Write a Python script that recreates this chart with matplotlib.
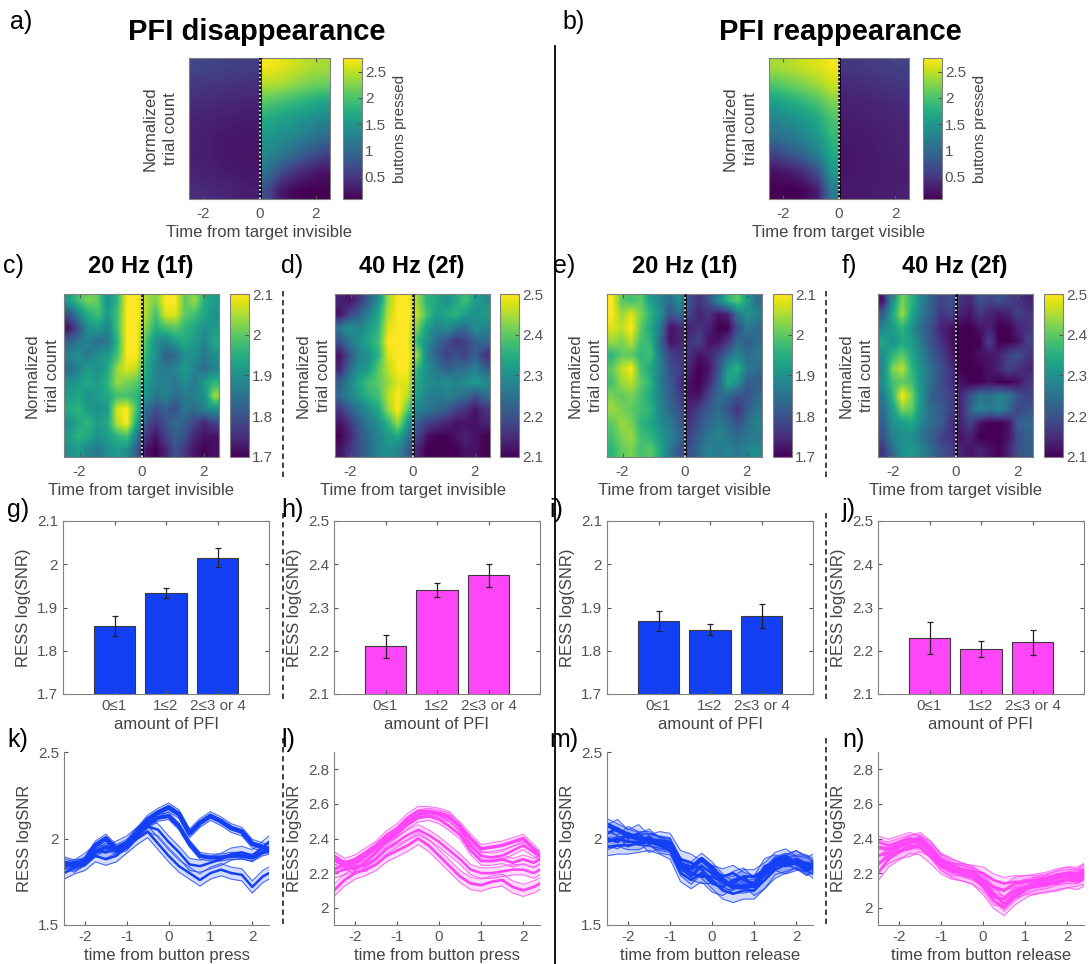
import numpy as np
import matplotlib.pyplot as plt

plt.rcParams['font.family'] = ['Liberation Sans', 'DejaVu Sans']
plt.rcParams['xtick.color'] = '#555555'
plt.rcParams['ytick.color'] = '#555555'
plt.rcParams['axes.edgecolor'] = '#808080'
plt.rcParams['axes.labelcolor'] = '#444444'

BLUE = '#1440f5'
MAGENTA = '#ff45f8'

# ---- panel a / b : buttons pressed (rows = normalized trials, top->bottom)
a_left = [[0.65, 0.62, 0.60, 0.58, 0.55],
          [0.52, 0.50, 0.48, 0.46, 0.45],
          [0.42, 0.40, 0.38, 0.36, 0.35],
          [0.35, 0.32, 0.30, 0.28, 0.28],
          [0.32, 0.28, 0.25, 0.24, 0.24],
          [0.30, 0.28, 0.24, 0.22, 0.22],
          [0.35, 0.32, 0.28, 0.26, 0.24],
          [0.42, 0.40, 0.36, 0.32, 0.28]]
a_right = [[2.72, 2.65, 2.55, 2.45, 2.40],
           [2.45, 2.40, 2.30, 2.20, 2.15],
           [2.05, 1.95, 1.85, 1.75, 1.65],
           [1.70, 1.60, 1.50, 1.40, 1.30],
           [1.50, 1.40, 1.30, 1.15, 1.00],
           [1.30, 1.15, 0.95, 0.75, 0.60],
           [1.05, 0.70, 0.45, 0.30, 0.20],
           [0.70, 0.25, 0.12, 0.08, 0.08]]
b_left = [[2.40, 2.45, 2.55, 2.62, 2.72],
          [2.05, 2.15, 2.25, 2.38, 2.55],
          [1.60, 1.70, 1.85, 2.00, 2.25],
          [1.30, 1.40, 1.50, 1.70, 2.00],
          [1.05, 1.15, 1.30, 1.50, 1.85],
          [0.60, 0.75, 0.95, 1.25, 1.70],
          [0.20, 0.25, 0.40, 0.75, 1.50],
          [0.08, 0.08, 0.12, 0.30, 1.20]]
b_right = [[0.50, 0.52, 0.55, 0.58, 0.60],
           [0.40, 0.42, 0.45, 0.48, 0.50],
           [0.32, 0.34, 0.36, 0.38, 0.42],
           [0.28, 0.30, 0.32, 0.34, 0.36],
           [0.25, 0.26, 0.28, 0.30, 0.34],
           [0.24, 0.25, 0.27, 0.30, 0.32],
           [0.24, 0.25, 0.26, 0.28, 0.30],
           [0.26, 0.26, 0.28, 0.30, 0.32]]

# ---- panels c-f : RESS log(SNR) per trial bin (12 rows x 16 time bins)
c_grid = [[1.92, 1.98, 2.02, 2.00, 1.90, 1.96, 2.10, 2.10, 2.05, 2.02, 2.10, 2.10, 2.00, 2.04, 1.95, 1.92],
          [1.80, 1.88, 1.95, 1.98, 1.92, 1.98, 2.10, 2.10, 2.05, 1.98, 2.08, 2.08, 2.00, 1.98, 1.94, 1.90],
          [1.72, 1.80, 1.90, 1.92, 1.88, 1.98, 2.10, 2.10, 2.02, 1.95, 1.98, 2.00, 1.96, 1.94, 1.90, 1.92],
          [1.82, 1.86, 1.88, 1.84, 1.86, 1.96, 2.10, 2.10, 1.98, 1.90, 1.88, 1.92, 1.95, 1.92, 1.88, 1.94],
          [1.88, 1.90, 1.86, 1.90, 1.92, 1.98, 2.10, 2.10, 1.96, 1.90, 1.82, 1.84, 1.90, 1.90, 1.86, 1.90],
          [1.84, 1.88, 1.92, 1.90, 1.94, 2.04, 2.08, 2.06, 1.94, 1.88, 1.86, 1.88, 1.92, 1.88, 1.84, 1.88],
          [1.90, 1.92, 1.94, 1.92, 1.96, 2.04, 2.02, 2.00, 1.92, 1.88, 1.88, 1.86, 1.90, 1.86, 1.92, 1.96],
          [1.92, 1.94, 1.90, 1.92, 1.94, 1.98, 1.98, 1.96, 1.90, 1.86, 1.88, 1.84, 1.86, 1.88, 1.90, 2.04],
          [1.94, 1.96, 1.92, 1.90, 1.92, 2.08, 2.10, 1.98, 1.84, 1.80, 1.82, 1.80, 1.86, 1.84, 1.88, 1.90],
          [1.90, 1.94, 1.96, 1.92, 1.94, 2.06, 2.10, 1.94, 1.80, 1.76, 1.80, 1.84, 1.82, 1.78, 1.74, 1.78],
          [1.92, 1.96, 1.94, 1.90, 1.92, 1.96, 1.98, 1.86, 1.76, 1.72, 1.78, 1.82, 1.80, 1.74, 1.72, 1.72],
          [1.90, 1.92, 1.88, 1.86, 1.90, 1.92, 1.90, 1.82, 1.72, 1.70, 1.74, 1.80, 1.76, 1.72, 1.70, 1.72]]
d_grid = [[2.14, 2.12, 2.16, 2.22, 2.30, 2.44, 2.50, 2.50, 2.44, 2.36, 2.34, 2.30, 2.34, 2.38, 2.32, 2.30],
          [2.12, 2.18, 2.22, 2.28, 2.34, 2.46, 2.50, 2.50, 2.46, 2.38, 2.32, 2.34, 2.36, 2.32, 2.30, 2.32],
          [2.26, 2.30, 2.28, 2.32, 2.36, 2.48, 2.50, 2.50, 2.42, 2.32, 2.28, 2.30, 2.26, 2.24, 2.30, 2.28],
          [2.20, 2.26, 2.30, 2.34, 2.38, 2.50, 2.50, 2.50, 2.36, 2.30, 2.24, 2.20, 2.16, 2.18, 2.22, 2.24],
          [2.12, 2.20, 2.28, 2.30, 2.36, 2.48, 2.50, 2.50, 2.44, 2.28, 2.22, 2.18, 2.20, 2.18, 2.22, 2.16],
          [2.14, 2.24, 2.30, 2.32, 2.40, 2.46, 2.50, 2.50, 2.36, 2.30, 2.26, 2.22, 2.24, 2.24, 2.28, 2.22],
          [2.22, 2.28, 2.34, 2.38, 2.40, 2.44, 2.48, 2.48, 2.34, 2.30, 2.28, 2.30, 2.28, 2.30, 2.32, 2.30],
          [2.24, 2.28, 2.32, 2.36, 2.38, 2.46, 2.50, 2.46, 2.32, 2.28, 2.26, 2.28, 2.26, 2.24, 2.20, 2.24],
          [2.16, 2.22, 2.26, 2.30, 2.34, 2.44, 2.50, 2.40, 2.28, 2.26, 2.24, 2.22, 2.18, 2.16, 2.12, 2.16],
          [2.12, 2.16, 2.22, 2.26, 2.30, 2.36, 2.44, 2.32, 2.22, 2.18, 2.16, 2.14, 2.12, 2.12, 2.12, 2.14],
          [2.10, 2.14, 2.20, 2.24, 2.28, 2.32, 2.34, 2.26, 2.18, 2.12, 2.10, 2.10, 2.12, 2.14, 2.12, 2.10],
          [2.12, 2.16, 2.20, 2.24, 2.28, 2.30, 2.28, 2.22, 2.14, 2.10, 2.10, 2.10, 2.10, 2.12, 2.12, 2.10]]
e_grid = [[2.10, 2.00, 1.98, 2.00, 1.92, 1.88, 1.84, 1.90, 1.80, 1.76, 1.80, 1.88, 1.96, 2.00, 1.92, 1.84],
          [2.10, 2.04, 2.08, 2.02, 1.96, 1.90, 1.80, 1.84, 1.78, 1.74, 1.76, 1.72, 1.74, 1.86, 1.90, 1.88],
          [2.08, 2.06, 2.10, 2.00, 1.94, 1.86, 1.72, 1.74, 1.74, 1.76, 1.74, 1.70, 1.70, 1.80, 1.86, 1.84],
          [2.04, 2.02, 2.06, 1.98, 1.96, 1.84, 1.72, 1.74, 1.76, 1.78, 1.72, 1.72, 1.76, 1.84, 1.82, 1.84],
          [1.96, 2.00, 2.00, 1.96, 1.98, 1.86, 1.78, 1.76, 1.76, 1.72, 1.74, 1.78, 1.84, 1.88, 1.84, 1.86],
          [2.00, 2.06, 2.10, 1.98, 1.94, 1.88, 1.80, 1.78, 1.74, 1.70, 1.72, 1.80, 1.92, 1.96, 1.86, 1.84],
          [1.98, 2.04, 2.06, 2.00, 1.96, 1.86, 1.82, 1.76, 1.72, 1.70, 1.74, 1.82, 1.94, 1.90, 1.82, 1.82],
          [2.02, 2.00, 2.02, 1.98, 1.94, 1.88, 1.82, 1.78, 1.72, 1.72, 1.78, 1.84, 1.84, 1.80, 1.80, 1.84],
          [2.04, 2.02, 2.00, 1.98, 1.96, 1.88, 1.84, 1.80, 1.74, 1.78, 1.82, 1.84, 1.80, 1.76, 1.82, 1.86],
          [2.00, 2.04, 2.02, 1.96, 1.94, 1.90, 1.86, 1.82, 1.76, 1.80, 1.84, 1.86, 1.84, 1.80, 1.84, 1.88],
          [1.98, 2.02, 2.04, 1.98, 1.96, 1.92, 1.88, 1.84, 1.78, 1.82, 1.86, 1.88, 1.86, 1.84, 1.86, 1.86],
          [1.96, 2.00, 2.02, 1.98, 2.00, 1.94, 1.86, 1.80, 1.80, 1.84, 1.88, 1.86, 1.88, 1.86, 1.88, 1.90]]
f_grid = [[2.12, 2.30, 2.42, 2.36, 2.28, 2.22, 2.18, 2.20, 2.16, 2.14, 2.20, 2.18, 2.20, 2.18, 2.16, 2.14],
          [2.22, 2.34, 2.44, 2.34, 2.26, 2.22, 2.16, 2.18, 2.14, 2.12, 2.16, 2.14, 2.12, 2.14, 2.18, 2.16],
          [2.28, 2.32, 2.36, 2.30, 2.24, 2.20, 2.14, 2.12, 2.10, 2.10, 2.12, 2.14, 2.10, 2.10, 2.14, 2.16],
          [2.34, 2.30, 2.34, 2.32, 2.26, 2.20, 2.16, 2.12, 2.10, 2.10, 2.10, 2.18, 2.10, 2.10, 2.12, 2.18],
          [2.30, 2.36, 2.40, 2.34, 2.28, 2.22, 2.18, 2.14, 2.10, 2.10, 2.12, 2.12, 2.14, 2.18, 2.20, 2.16],
          [2.28, 2.42, 2.46, 2.36, 2.30, 2.24, 2.20, 2.16, 2.10, 2.10, 2.10, 2.12, 2.14, 2.18, 2.16, 2.14],
          [2.30, 2.38, 2.40, 2.38, 2.30, 2.24, 2.20, 2.16, 2.12, 2.10, 2.10, 2.12, 2.10, 2.10, 2.12, 2.16],
          [2.26, 2.36, 2.50, 2.42, 2.30, 2.22, 2.20, 2.18, 2.14, 2.20, 2.26, 2.24, 2.28, 2.26, 2.20, 2.18],
          [2.24, 2.32, 2.42, 2.40, 2.30, 2.24, 2.22, 2.18, 2.14, 2.22, 2.28, 2.26, 2.28, 2.24, 2.18, 2.20],
          [2.22, 2.30, 2.32, 2.34, 2.28, 2.24, 2.22, 2.16, 2.14, 2.18, 2.12, 2.10, 2.10, 2.12, 2.22, 2.24],
          [2.20, 2.28, 2.30, 2.30, 2.26, 2.22, 2.18, 2.16, 2.12, 2.14, 2.10, 2.10, 2.10, 2.12, 2.20, 2.22],
          [2.16, 2.24, 2.30, 2.32, 2.28, 2.24, 2.20, 2.18, 2.14, 2.12, 2.14, 2.12, 2.10, 2.14, 2.20, 2.22]]

# ---- panels g-j : bar means and SEM
pfi_labels = ['0\u22641', '1\u22642', '2\u22643 or 4']
g_mean = [1.857, 1.933, 2.015]
g_err = [0.024, 0.012, 0.022]
h_mean = [2.210, 2.341, 2.374]
h_err = [0.027, 0.016, 0.026]
i_mean = [1.869, 1.849, 1.880]
i_err = [0.024, 0.013, 0.028]
j_mean = [2.229, 2.204, 2.220]
j_err = [0.037, 0.019, 0.029]

# ---- panels k-n : time courses (mean, shaded +/- sem)
t_line = [-2.5, -2.25, -2.0, -1.75, -1.5, -1.25, -1.0, -0.75, -0.5, -0.25, 0.0,
          0.25, 0.5, 0.75, 1.0, 1.25, 1.5, 1.75, 2.0, 2.25, 2.4]
k_series = [
    [1.86, 1.84, 1.87, 1.96, 2.00, 1.94, 1.97, 2.04, 2.11, 2.15, 2.18, 2.14, 2.03, 2.09, 2.13, 2.10, 2.06, 2.04, 1.97, 1.95, 1.94],
    [1.84, 1.86, 1.86, 1.92, 1.95, 1.93, 1.95, 2.02, 2.08, 2.12, 2.13, 2.07, 1.97, 1.90, 1.89, 1.89, 1.90, 1.90, 1.89, 1.92, 1.93],
    [1.80, 1.83, 1.85, 1.90, 1.88, 1.90, 1.95, 2.00, 2.04, 1.97, 1.90, 1.84, 1.80, 1.76, 1.80, 1.82, 1.80, 1.79, 1.72, 1.78, 1.80],
    [1.86, 1.84, 1.88, 1.93, 1.92, 1.95, 1.98, 2.03, 2.07, 2.05, 1.98, 1.92, 1.85, 1.84, 1.86, 1.88, 1.91, 1.92, 1.90, 1.95, 1.98]]
k_sem = [0.025, 0.02, 0.035, 0.035]
k_lw = [3.5, 3.0, 1.8, 1.8]
l_series = [
    [2.28, 2.24, 2.26, 2.30, 2.35, 2.40, 2.44, 2.50, 2.54, 2.55, 2.54, 2.52, 2.47, 2.40, 2.34, 2.35, 2.36, 2.38, 2.40, 2.34, 2.30],
    [2.22, 2.25, 2.22, 2.26, 2.32, 2.38, 2.43, 2.48, 2.52, 2.53, 2.51, 2.47, 2.42, 2.33, 2.27, 2.27, 2.28, 2.26, 2.28, 2.26, 2.28],
    [2.10, 2.16, 2.20, 2.22, 2.25, 2.30, 2.33, 2.36, 2.40, 2.36, 2.30, 2.24, 2.18, 2.14, 2.13, 2.15, 2.16, 2.12, 2.10, 2.12, 2.14],
    [2.20, 2.22, 2.24, 2.24, 2.28, 2.34, 2.38, 2.42, 2.45, 2.42, 2.38, 2.33, 2.28, 2.22, 2.20, 2.20, 2.21, 2.22, 2.22, 2.20, 2.22],
    [2.30, 2.26, 2.28, 2.32, 2.36, 2.42, 2.46, 2.52, 2.56, 2.56, 2.55, 2.53, 2.46, 2.36, 2.30, 2.29, 2.30, 2.33, 2.36, 2.32, 2.30]]
l_sem = [0.025, 0.025, 0.035, 0.03, 0.025]
l_lw = [2.5, 2.0, 2.0, 1.8, 1.8]
m_series = [
    [2.08, 2.05, 2.02, 2.00, 1.99, 1.98, 1.97, 1.85, 1.83, 1.88, 1.83, 1.76, 1.72, 1.72, 1.73, 1.80, 1.86, 1.88, 1.86, 1.82, 1.84],
    [2.00, 1.98, 2.03, 2.00, 2.00, 1.97, 1.96, 1.85, 1.80, 1.78, 1.78, 1.75, 1.74, 1.78, 1.78, 1.82, 1.88, 1.90, 1.86, 1.85, 1.83],
    [1.95, 1.96, 1.96, 1.97, 1.98, 1.96, 1.93, 1.80, 1.76, 1.80, 1.74, 1.72, 1.76, 1.78, 1.72, 1.76, 1.84, 1.86, 1.88, 1.85, 1.82],
    [2.03, 2.06, 2.00, 2.03, 1.97, 1.99, 1.98, 1.88, 1.86, 1.82, 1.76, 1.70, 1.68, 1.70, 1.70, 1.76, 1.82, 1.85, 1.88, 1.84, 1.86],
    [1.98, 2.00, 1.98, 1.98, 2.01, 1.96, 1.95, 1.83, 1.78, 1.84, 1.80, 1.78, 1.80, 1.76, 1.74, 1.84, 1.86, 1.84, 1.86, 1.86, 1.84]]
m_sem = [0.035, 0.04, 0.05, 0.05, 0.045]
m_lw = [3.5, 2.0, 1.8, 1.8, 1.8]
n_series = [
    [2.35, 2.34, 2.36, 2.38, 2.38, 2.33, 2.27, 2.24, 2.22, 2.20, 2.16, 2.08, 2.02, 2.08, 2.12, 2.14, 2.15, 2.17, 2.18, 2.18, 2.20],
    [2.30, 2.32, 2.35, 2.38, 2.40, 2.35, 2.28, 2.25, 2.22, 2.20, 2.16, 2.12, 2.10, 2.14, 2.15, 2.15, 2.16, 2.18, 2.20, 2.19, 2.22],
    [2.25, 2.30, 2.33, 2.34, 2.37, 2.34, 2.26, 2.22, 2.20, 2.18, 2.12, 2.04, 2.00, 2.06, 2.10, 2.13, 2.13, 2.15, 2.16, 2.17, 2.18],
    [2.38, 2.36, 2.38, 2.40, 2.38, 2.32, 2.25, 2.22, 2.22, 2.21, 2.20, 2.16, 2.14, 2.15, 2.15, 2.16, 2.17, 2.19, 2.20, 2.20, 2.22],
    [2.20, 2.28, 2.32, 2.36, 2.35, 2.30, 2.24, 2.21, 2.20, 2.18, 2.14, 2.06, 2.05, 2.10, 2.12, 2.12, 2.14, 2.14, 2.16, 2.15, 2.17]]
n_sem = [0.04, 0.035, 0.045, 0.035, 0.045]
n_lw = [2.2, 2.0, 2.0, 1.8, 1.8]

W, H = 1089, 964
fig = plt.figure(figsize=(W / 100, H / 100), dpi=100)

LAB = 12
TICK = 11


def box(x0, y0, x1, y1):
    # axes from pixel corners (top-left origin)
    return fig.add_axes([x0 / W, 1 - y1 / H, (x1 - x0) / W, (y1 - y0) / H])


def zero_line(ax):
    ax.plot([0, 0], [0, 1], color='black', lw=1.8, zorder=3)
    ax.plot([0, 0], [0, 1], color='white', lw=1.2, ls=(0, (1, 1.5)), zorder=4)


def finish_heat(ax, xlabel, ylabel, pad):
    ax.set_xlim(-2.5, 2.5)
    ax.set_ylim(0, 1)
    ax.set_xticks([-2, 0, 2])
    ax.set_xticklabels(['-2', '0', '2'])
    ax.set_yticks([])
    ax.tick_params(axis='x', direction='in', top=True, length=3, labelsize=TICK, pad=6)
    ax.set_xlabel(xlabel, fontsize=LAB, labelpad=3)
    ax.set_ylabel(ylabel, fontsize=LAB, labelpad=pad, linespacing=1.45)
    for s in ax.spines.values():
        s.set_edgecolor('#808080')


def cbar(im, x0, x1, y0, y1, ticks, labels, label=None):
    cax = box(x0, y0, x1, y1)
    cb = fig.colorbar(im, cax=cax)
    cb.set_ticks(ticks)
    cb.set_ticklabels(labels)
    cb.ax.tick_params(direction='in', length=3, labelsize=TICK, pad=2)
    cb.outline.set_edgecolor('#808080')
    if label:
        cb.set_label(label, fontsize=11, color='#444444', labelpad=5)


# ---------------- row 1
btn_ticks = [0.5, 1, 1.5, 2, 2.5]
btn_labels = ['0.5', '1', '1.5', '2', '2.5']
for left, right, xs, xlab in [(a_left, a_right, (189, 330, 343, 362), 'Time from target invisible'),
                              (b_left, b_right, (769, 909, 923, 942), 'Time from target visible')]:
    ax = box(xs[0], 58, xs[1], 199)
    ax.imshow(left, extent=[-2.5, 0, 0, 1], aspect='auto', cmap='viridis',
              vmin=0.08, vmax=2.76, interpolation='bilinear')
    im = ax.imshow(right, extent=[0, 2.5, 0, 1], aspect='auto', cmap='viridis',
                   vmin=0.08, vmax=2.76, interpolation='bilinear')
    zero_line(ax)
    finish_heat(ax, xlab, 'Normalized\ntrial count', 8)
    cbar(im, xs[2], xs[3], 58, 199, btn_ticks, btn_labels, 'buttons pressed')

# ---------------- row 2
for grid, xs, lims, xlab in [
        (c_grid, (64, 219, 230, 249), (1.7, 2.1), 'Time from target invisible'),
        (d_grid, (335, 490, 500, 519), (2.1, 2.5), 'Time from target invisible'),
        (e_grid, (607, 762, 773, 792), (1.7, 2.1), 'Time from target visible'),
        (f_grid, (878, 1033, 1044, 1063), (2.1, 2.5), 'Time from target visible')]:
    ax = box(xs[0], 294, xs[1], 457)
    im = ax.imshow(grid, extent=[-2.5, 2.5, 0, 1], aspect='auto', cmap='viridis',
                   vmin=lims[0], vmax=lims[1], interpolation='bilinear')
    zero_line(ax)
    finish_heat(ax, xlab, 'Normalized\ntrial count', 3)
    ticks = [round(lims[0] + 0.1 * k, 1) for k in range(5)]
    cbar(im, xs[2], xs[3], 294, 457, ticks, [('%g' % v) for v in ticks])

# ---------------- row 3 : bars
for mean, err, color, xs, lims in [
        (g_mean, g_err, BLUE, (63, 269), (1.7, 2.1)),
        (h_mean, h_err, MAGENTA, (334, 540), (2.1, 2.5)),
        (i_mean, i_err, BLUE, (607, 813), (1.7, 2.1)),
        (j_mean, j_err, MAGENTA, (878, 1084), (2.1, 2.5))]:
    ax = box(xs[0], 521, xs[1], 694)
    ax.bar([1, 2, 3], mean, width=0.8, color=color, edgecolor='#3a3a3a', linewidth=0.8,
           yerr=err, capsize=2.5, error_kw=dict(ecolor='#222222', elinewidth=0.9, capthick=0.9))
    ax.set_xlim(0, 4)
    ax.set_ylim(*lims)
    yt = [round(lims[0] + 0.1 * k, 1) for k in range(5)]
    ax.set_yticks(yt)
    ax.set_yticklabels([('%g' % v) for v in yt])
    ax.set_xticks([1, 2, 3])
    ax.set_xticklabels(pfi_labels)
    ax.tick_params(direction='in', top=True, right=True, length=3, labelsize=TICK)
    ax.set_xlabel('amount of PFI', fontsize=LAB, labelpad=3)
    ax.set_ylabel('RESS log(SNR)', fontsize=LAB, labelpad=4)

# ---------------- row 4 : time courses
for series, sem, lws, color, xs, lims, yt, xlab in [
        (k_series, k_sem, k_lw, BLUE, (64, 269), (1.5, 2.5), [1.5, 2, 2.5], 'time from button press'),
        (l_series, l_sem, l_lw, MAGENTA, (334, 540), (1.9, 2.9), [2, 2.2, 2.4, 2.6, 2.8], 'time from button press'),
        (m_series, m_sem, m_lw, BLUE, (607, 813), (1.5, 2.5), [1.5, 2, 2.5], 'time from button release'),
        (n_series, n_sem, n_lw, MAGENTA, (878, 1084), (1.9, 2.9), [2, 2.2, 2.4, 2.6, 2.8], 'time from button release')]:
    ax = box(xs[0], 752, xs[1], 925)
    t = np.array(t_line)
    for vals, e, lw in zip(series, sem, lws):
        v = np.array(vals)
        ax.fill_between(t, v - e, v + e, color=color, alpha=0.18, lw=0)
        ax.plot(t, v - e, color=color, lw=0.8, alpha=0.75)
        ax.plot(t, v + e, color=color, lw=0.8, alpha=0.75)
        ax.plot(t, v, color=color, lw=lw)
    ax.set_xlim(-2.5, 2.4)
    ax.set_ylim(*lims)
    ax.set_yticks(yt)
    ax.set_yticklabels([('%g' % v) for v in yt])
    ax.set_xticks([-2, -1, 0, 1, 2])
    ax.set_xticklabels(['-2', '-1', '0', '1', '2'])
    ax.spines['top'].set_visible(False)
    ax.spines['right'].set_visible(False)
    ax.tick_params(direction='in', length=3, labelsize=TICK)
    ax.set_xlabel(xlab, fontsize=LAB, labelpad=3)
    ax.set_ylabel('RESS logSNR', fontsize=LAB, labelpad=4)

# ---------------- overlay: titles, panel letters, separators
ov = fig.add_axes([0, 0, 1, 1])
ov.set_xlim(0, W)
ov.set_ylim(H, 0)
ov.axis('off')
ov.patch.set_visible(False)

ov.text(257, 32, 'PFI disappearance', fontsize=21, fontweight='bold', ha='center', va='center')
ov.text(840, 32, 'PFI reappearance', fontsize=21, fontweight='bold', ha='center', va='center')
for x, s in [(141, '20 Hz (1f)'), (412, '40 Hz (2f)'), (685, '20 Hz (1f)'), (955, '40 Hz (2f)')]:
    ov.text(x, 266, s, fontsize=17, fontweight='bold', ha='center', va='center')

for x, y, s in [(10, 22, 'a)'), (562, 22, 'b)'),
                (3, 266, 'c)'), (281, 266, 'd)'), (553, 266, 'e)'), (842, 266, 'f)'),
                (7, 510, 'g)'), (281, 510, 'h)'), (549, 510, 'i)'), (842, 510, 'j)'),
                (7, 740, 'k)'), (281, 740, 'l)'), (549, 740, 'm)'), (842, 740, 'n)')]:
    ov.text(x, y, s, fontsize=18, ha='left', va='center')

ov.plot([555, 555], [46, 964], color='black', lw=1.3)
for x in (283, 826):
    for y0, y1 in [(291, 478), (513, 702), (738, 925)]:
        ov.plot([x, x], [y0, y1], color='#333333', lw=1.3, ls=(0, (3, 2)))

fig.savefig('out.png', dpi=100)
